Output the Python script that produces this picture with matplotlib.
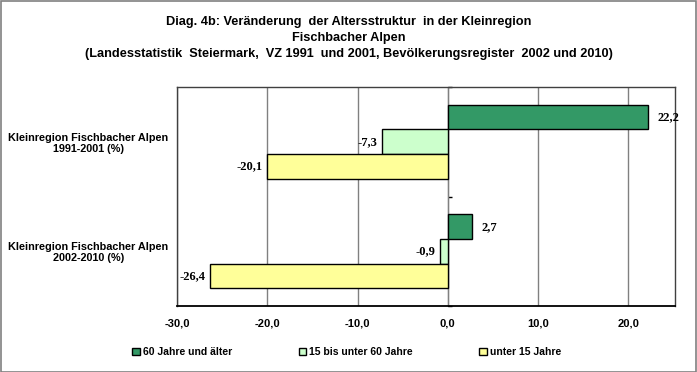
import matplotlib
matplotlib.use("Agg")
import matplotlib.pyplot as plt
from matplotlib.patches import Rectangle

categories = ["Kleinregion Fischbacher Alpen\n1991-2001 (%)",
              "Kleinregion Fischbacher Alpen\n2002-2010 (%)"]
series_names = ["60 Jahre und älter", "15 bis unter 60 Jahre", "unter 15 Jahre"]
val_60plus = [22.2, 2.7]
val_15_60 = [-7.3, -0.9]
val_u15 = [-20.1, -26.4]
colors = ["#339966", "#CCFFCC", "#FFFF99"]
xticks = [-30, -20, -10, 0, 10, 20]

plt.rcParams['font.family'] = ['Liberation Sans', 'DejaVu Sans']

fig = plt.figure(figsize=(6.97, 3.72), dpi=100)
fig.patches.append(Rectangle((0.5/697, 0.5/372), 1-1.5/697, 1-1.5/372, transform=fig.transFigure,
                             fill=False, edgecolor="#808080", linewidth=1.2))
ax = fig.add_axes([177.3/697, 1-306/372, (675-177.3)/697, (306-87)/372])

h = 0.224
ys = list(range(len(categories)))
allvals = [val_60plus, val_15_60, val_u15]
offsets = [-h, 0, h]
for vals, off, col, name in zip(allvals, offsets, colors, series_names):
    pos = [y + off for y in ys]
    bars = ax.barh(pos, vals, height=h, color=col, edgecolor="black", linewidth=1.0,
                   label=name, zorder=3)
    for b, v in zip(bars, vals):
        txt = f"{v:.1f}".replace(".", ",")
        yc = b.get_y() + b.get_height() / 2
        if v >= 0:
            ax.annotate(txt, (v, yc), xytext=(7, 0), textcoords="offset points",
                        ha="left", va="center", fontsize=9, fontweight="bold",
                        family="Liberation Serif", zorder=5)
        else:
            ax.annotate(txt, (v, yc), xytext=(-3, 0), textcoords="offset points",
                        ha="right", va="center", fontsize=9, fontweight="bold",
                        family="Liberation Serif", zorder=5)

ax.set_xlim(-30, 25.2)
ax.set_ylim(1.5, -0.5)
ax.set_xticks(xticks)
ax.set_xticklabels([f"{t:.1f}".replace(".", ",") for t in xticks],
                   fontsize=8, fontweight="bold")
ax.tick_params(axis="x", length=0, pad=9)
ax.xaxis.grid(True, color="#808080", linewidth=1.0, zorder=0)
ax.set_yticks(ys)
ax.set_yticklabels(categories, fontsize=7.8, fontweight="bold", ha="center",
                   linespacing=1.1)
ax.tick_params(axis="y", length=0, pad=64)
for s in ["top", "right", "left"]:
    ax.spines[s].set_color("#404040")
    ax.spines[s].set_linewidth(1.0)
ax.spines["bottom"].set_color("black")
ax.spines["bottom"].set_linewidth(1.3)
ax.spines["bottom"].set_zorder(4)

zero_frac = (0 - (-30)) / (25.2 - (-30))
sec = ax.secondary_yaxis(zero_frac)
sec.set_yticks([-0.5, 0.5, 1.5])
sec.set_yticklabels([])
sec.tick_params(axis="y", length=3, width=1, color="black", direction="out")
sec.spines["left"].set_color("black")
sec.spines["left"].set_linewidth(1.3)

fig.text(0.5, 1-16/372, "Diag. 4b: Veränderung  der Altersstruktur  in der Kleinregion\nFischbacher Alpen\n(Landesstatistik  Steiermark,  VZ 1991  und 2001, Bevölkerungsregister  2002 und 2010)",
         ha="center", va="top", fontsize=9.2, fontweight="bold", linespacing=1.42)

leg = fig.legend(loc="center left", bbox_to_anchor=(123/697, 1-352/372), ncol=3, frameon=False,
                 prop={"weight": "bold", "size": 7.5},
                 handlelength=0.7, handleheight=0.7, handletextpad=0.3, columnspacing=6.4)

fig.savefig("out.png", dpi=100)
